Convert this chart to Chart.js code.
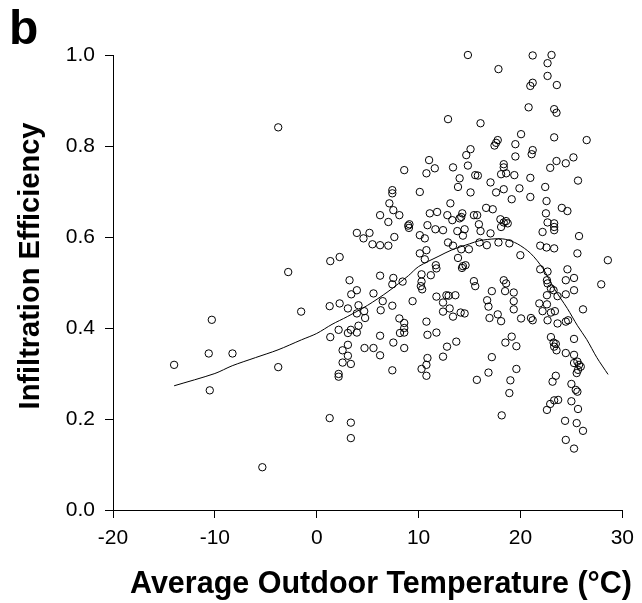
<!DOCTYPE html>
<html lang="en">
<head>
  <meta charset="UTF-8">
  <title>Infiltration efficiency vs outdoor temperature</title>
  <script src="https://cdn.jsdelivr.net/npm/chart.js"></script>
  <style>
    body { margin: 0; background: #fff; }
    #chart { display: block; }
  </style>
</head>
<body>
  <canvas id="chart" width="642" height="603"></canvas>

  <script>
    // Measured points: average outdoor temperature (°C) and infiltration efficiency
    var tempC = [
      -3.78, -2.8, -1.53, -10.3, -10.6, -8.27, -14.0, -3.78, -10.5, -5.34,
      8.59,
      14.84, 17.84, 12.89, 16.08, 17.77, 17.61, 17.45, 15.1, 14.68, 19.5, 19.5, 11.03, 11.59, 10.77, 13.38,
      14.84, 18.36, 18.36, 18.1, 18.6, 19.4, 14.03, 15.56, 15.82, 17.06,
      21.2, 23.05, 22.66, 22.66, 23.57, 21.2, 20.97, 20.8, 23.31, 23.54, 20.06, 23.31, 26.5, 21.2, 21.1,
      23.54, 24.45, 25.2, 22.92, 20.97, 25.65,
      19.9, 22.43, 20.97, 22.56, 24.06, 24.61, 22.5, 22.66, 23.31, 23.31, 23.31, 22.17, 25.75, 21.94, 22.56,
      23.31, 25.59, 19.99, 28.58, 21.94, 22.66, 24.61, 25.26, 24.45, 22.6, 22.66, 27.93, 22.99, 23.25, 25.26,
      24.45, 23.64, 22.6, 21.85, 22.6, 22.17, 22.99, 23.38, 26.14, 20.06, 21.03, 21.2, 22.66, 23.64, 24.45, 24.68,
      19.6, 19.6, 22.99, 23.25, 23.47, 23.31, 23.54, 25.26, 24.45, 25.26, 25.26, 25.59, 25.75, 25.65, 25.52,
      25.92, 23.47, 23.15, 25.0, 25.43, 25.59, 23.7, 23.31, 22.92, 22.6, 25.0, 25.65, 24.38, 25.52, 26.14, 24.45, 25.26,
      13.87, 10.12, 15.1, 18.36, 17.61, 19.14, 13.12, 16.63, 17.28, 11.1, 11.82, 12.82, 13.31, 14.03, 14.29,
      14.19, 15.43, 15.75, 15.92, 18.03, 18.36, 18.59, 18.75, 18.1, 10.87, 11.65, 12.4, 13.8, 14.52, 14.35,
      16.08, 17.06, 10.12, 10.61, 12.89, 13.38, 15.98, 16.7, 17.84, 18.91, 14.19, 14.94, 10.77, 10.12, 13.87,
      10.61, 11.69, 11.75, 14.35, 14.61, 14.26, 10.29, 11.2, 10.29, 10.22, 10.35, 15.43, 15.56, 18.36, 18.59,
      17.19, 18.49, 19.34, 11.75, 12.73, 12.95, 13.61, 12.4, 13.05, 16.73, 16.86, 19.34, 19.34, 12.4, 14.13,
      14.52, 13.38, 16.96, 17.77, 18.1, 10.77,
      10.87, 11.75, 12.79, 13.7, 12.4, 10.87, 10.77, 10.29, 10.77, 17.19, 16.86, 15.72, 19.14, 18.52, 19.01, 18.91, 18.16,
      1.33, 2.15, 3.06, 3.35, 3.94, 4.1, 8.59, 8.59, 8.59, 8.17, 6.22, 7.52, 8.59, 4.69, 5.57, 6.22, 3.06, 2.54,
      3.06, 2.54, 3.35, 7.42, 2.15, 2.15, 1.27, 3.35, 3.35,
      7.42, 7.42, 7.13, 7.52, 8.11, 6.22, 7.03, 8.98, 9.05, 9.1, 3.94, 4.59, 5.18, 5.47, 6.22, 7.03, 7.62, 1.33,
      2.25, 3.22, 6.22, 7.52, 7.42, 8.43, 3.94, 3.39, 5.57, 6.48, 9.41, 1.27, 2.25, 3.06, 4.1, 4.66, 3.94, 4.75,
      6.28, 7.42, 8.11
    ];
    var efficiency = [
      0.841, 0.523, 0.436, 0.418, 0.344, 0.344, 0.319, 0.314, 0.263, 0.094,
      0.747,
      1.0, 0.969, 0.859, 0.850, 0.813, 0.807, 0.801, 0.793, 0.780, 0.804, 0.777, 0.769, 0.751, 0.740, 0.753,
      0.757, 0.760, 0.753, 0.738, 0.740, 0.736, 0.729, 0.736, 0.735, 0.720,
      0.999, 1.0, 0.982, 0.954, 0.934, 0.939, 0.932, 0.885, 0.881, 0.873, 0.826, 0.819, 0.813, 0.791, 0.782,
      0.767, 0.762, 0.775, 0.752, 0.730, 0.724,
      0.707, 0.710, 0.688, 0.679, 0.664, 0.657, 0.652, 0.632, 0.630, 0.622, 0.615, 0.611, 0.602, 0.581, 0.577,
      0.575, 0.564, 0.560, 0.549, 0.529, 0.524, 0.529, 0.510, 0.505, 0.505, 0.498, 0.496, 0.487, 0.483, 0.483,
      0.474, 0.470, 0.472, 0.454, 0.452, 0.437, 0.434, 0.437, 0.441, 0.421, 0.422, 0.417, 0.417, 0.410, 0.414, 0.417,
      0.360, 0.310, 0.380, 0.368, 0.365, 0.359, 0.351, 0.376, 0.345, 0.341, 0.323, 0.326, 0.319, 0.308, 0.301,
      0.315, 0.295, 0.282, 0.277, 0.264, 0.260, 0.242, 0.241, 0.233, 0.220, 0.239, 0.222, 0.196, 0.191, 0.174, 0.154, 0.135,
      0.710, 0.699, 0.698, 0.705, 0.698, 0.683, 0.674, 0.664, 0.661, 0.652, 0.655, 0.648, 0.637, 0.641, 0.652,
      0.644, 0.648, 0.648, 0.628, 0.639, 0.632, 0.635, 0.630, 0.622, 0.626, 0.617, 0.615, 0.613, 0.617, 0.603,
      0.613, 0.608, 0.604, 0.597, 0.588, 0.581, 0.588, 0.582, 0.588, 0.586, 0.573, 0.573, 0.571, 0.564, 0.554,
      0.551, 0.538, 0.531, 0.536, 0.538, 0.532, 0.518, 0.516, 0.502, 0.492, 0.485, 0.503, 0.492, 0.505, 0.498,
      0.481, 0.481, 0.478, 0.469, 0.472, 0.471, 0.472, 0.456, 0.443, 0.461, 0.447, 0.459, 0.441, 0.436, 0.434,
      0.432, 0.425, 0.422, 0.430, 0.415, 0.414,
      0.385, 0.390, 0.359, 0.370, 0.337, 0.334, 0.319, 0.310, 0.295, 0.336, 0.302, 0.286, 0.381, 0.368, 0.285, 0.257, 0.208,
      0.380, 0.396, 0.389, 0.396, 0.390, 0.405, 0.411, 0.400, 0.390, 0.389, 0.383, 0.368, 0.356, 0.356, 0.356, 0.340, 0.363, 0.351,
      0.339, 0.324, 0.321, 0.307, 0.299, 0.293, 0.202, 0.192, 0.158,
      0.703, 0.696, 0.674, 0.659, 0.648, 0.648, 0.633, 0.625, 0.620, 0.628, 0.609, 0.597, 0.609, 0.584, 0.582, 0.581, 0.600, 0.547,
      0.556, 0.505, 0.515, 0.510, 0.496, 0.502, 0.483, 0.474, 0.476, 0.459, 0.459, 0.448, 0.454, 0.443, 0.450, 0.437, 0.432, 0.422,
      0.439, 0.449, 0.421
    ];

    // Smoothed trend line
    var fitTemp = [-14, -10, -8.3, -6, -3.8, -1.5, 0, 1.5, 3, 5, 7, 9, 10, 12, 13.2, 15, 16, 17.5, 18.5, 19.7, 21, 22.2, 23.3, 24.6, 25.6, 26.5, 27.5, 28.6];
    var fitEff = [0.273, 0.300, 0.317, 0.335, 0.352, 0.374, 0.388, 0.408, 0.425, 0.450, 0.480, 0.515, 0.535, 0.558, 0.571, 0.585, 0.592, 0.596, 0.595, 0.585, 0.564, 0.531, 0.487, 0.443, 0.405, 0.375, 0.335, 0.298];

    var xTicks = [-20, -10, 0, 10, 20, 30];
    var yTicks = [0.0, 0.2, 0.4, 0.6, 0.8, 1.0];

    var points = tempC.map(function(t, i) { return { x: t, y: efficiency[i] }; });
    var fitLine = fitTemp.map(function(t, i) { return { x: t, y: fitEff[i] }; });

    var FONT = "'Liberation Sans', Arial, sans-serif";

    // Panel letter and axis titles, placed like the original figure
    var textPlugin = {
      id: 'figureText',
      afterDraw: function(chart) {
        var ctx = chart.ctx;
        ctx.save();
        ctx.fillStyle = '#000';
        ctx.textAlign = 'left';
        ctx.textBaseline = 'alphabetic';
        ctx.font = 'bold 48px ' + FONT;
        ctx.fillText('b', 9, 44);

        ctx.textAlign = 'center';
        ctx.font = 'bold 30.5px ' + FONT;
        ctx.fillText('Average Outdoor Temperature (\u00B0C)', 381, 593);

        ctx.font = 'bold 29px ' + FONT;
        ctx.translate(31, 266);
        ctx.rotate(-Math.PI / 2);
        ctx.textBaseline = 'middle';
        ctx.fillText('Infiltration Efficiency', 0, 0);
        ctx.restore();
      }
    };

    new Chart(document.getElementById('chart'), {
      type: 'scatter',
      data: {
        datasets: [
          {
            label: 'Measurements',
            data: points,
            pointStyle: 'circle',
            pointRadius: 3.7,
            pointBorderWidth: 1,
            pointBorderColor: '#000',
            pointBackgroundColor: 'rgba(0,0,0,0)',
            clip: false
          },
          {
            type: 'line',
            label: 'Trend',
            data: fitLine,
            borderColor: '#000',
            borderWidth: 1,
            pointRadius: 0,
            tension: 0.3,
            fill: false
          }
        ]
      },
      options: {
        responsive: false,
        animation: false,
        devicePixelRatio: 1,
        layout: { padding: { left: 0, right: 17, top: 55, bottom: 0 } },
        plugins: {
          legend: { display: false },
          tooltip: { enabled: false }
        },
        scales: {
          x: {
            type: 'linear',
            min: -20,
            max: 30,
            afterBuildTicks: function(scale) {
              scale.ticks = xTicks.map(function(v) { return { value: v }; });
            },
            afterFit: function(scale) { scale.height = 93; },
            ticks: { color: '#000', font: { family: FONT, size: 21 }, padding: 8 },
            grid: { drawOnChartArea: false, tickLength: 8, color: '#000' },
            border: { color: '#000' }
          },
          y: {
            min: 0,
            max: 1,
            afterBuildTicks: function(scale) {
              scale.ticks = yTicks.map(function(v) { return { value: v }; });
            },
            afterFit: function(scale) { scale.width = 113; },
            ticks: {
              color: '#000',
              font: { family: FONT, size: 21 },
              padding: 10,
              callback: function(v) { return v.toFixed(1); }
            },
            grid: { drawOnChartArea: false, tickLength: 8, color: '#000' },
            border: { color: '#000' }
          }
        }
      },
      plugins: [textPlugin]
    });
  </script>
</body>
</html>
